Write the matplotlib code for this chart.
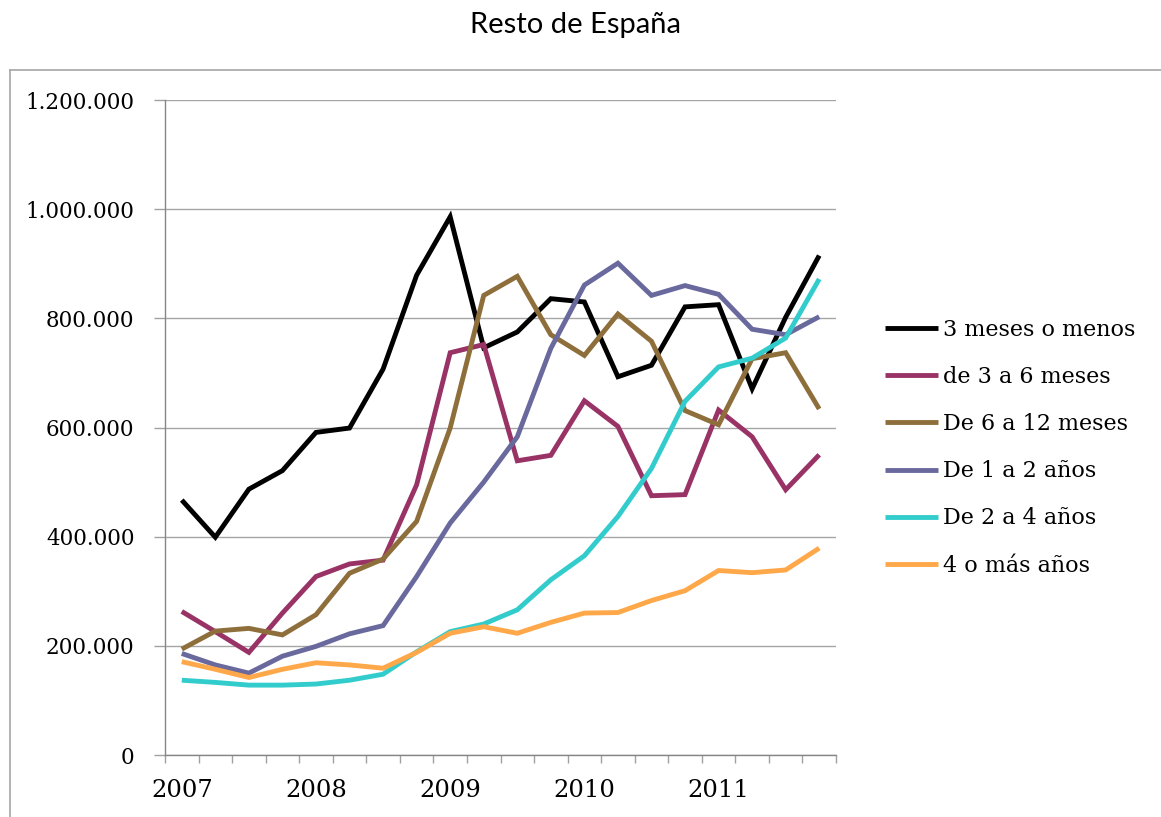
import matplotlib
matplotlib.use("Agg")
import matplotlib.pyplot as plt
from matplotlib.lines import Line2D
from matplotlib.ticker import FuncFormatter, FixedLocator

# ---- data (thousands of people, quarterly 2007Q1 - 2011Q4) ----
years = ["2007", "2008", "2009", "2010", "2011"]
labels = ["3 meses o menos", "de 3 a 6 meses", "De 6 a 12 meses",
          "De 1 a 2 años", "De 2 a 4 años", "4 o más años"]

s_3m = [467, 399, 487, 521, 591, 599, 707, 879, 986, 746,
        775, 836, 830, 693, 714, 821, 825, 671, 802, 915]
s_3_6m = [263, 226, 188, 260, 327, 350, 357, 495, 737, 752,
          539, 549, 649, 602, 475, 477, 632, 583, 486, 550]
s_6_12m = [194, 227, 232, 220, 257, 333, 359, 428, 599, 842,
           877, 770, 732, 808, 758, 631, 605, 726, 737, 634]
s_1_2a = [186, 165, 150, 181, 199, 222, 237, 327, 425, 500,
          583, 745, 861, 901, 842, 860, 844, 780, 770, 803]
s_2_4a = [137, 133, 128, 128, 130, 137, 148, 189, 226, 240,
          266, 321, 365, 437, 525, 648, 711, 727, 764, 872]
s_4a = [171, 157, 142, 157, 169, 165, 159, 188, 223, 235,
        223, 243, 260, 261, 283, 301, 338, 334, 339, 379]

series = [s_3m, s_3_6m, s_6_12m, s_1_2a, s_2_4a, s_4a]
colors = ["#000000", "#993366", "#8E6F3B", "#69699E", "#33CCCC", "#FFA84A"]

serif = ["DejaVu Serif"]

W, H = 1161, 817
fig = plt.figure(figsize=(W / 100, H / 100), dpi=100)
ax = fig.add_axes([165 / W, 1 - 755 / H, 671 / W, 655 / H])

n = len(s_3m)
x = list(range(n))
for vals, col, lab in zip(series, colors, labels):
    ax.plot(x, [v * 1000 for v in vals], color=col, lw=3.5, label=lab,
            solid_joinstyle="miter", solid_capstyle="butt")

ax.set_xlim(-0.5, n - 0.5)
ax.set_ylim(0, 1_200_000)

# y axis
ax.yaxis.set_major_locator(FixedLocator([i * 200_000 for i in range(7)]))
ax.yaxis.set_major_formatter(FuncFormatter(lambda v, p: f"{int(v):,}".replace(",", ".")))
ax.grid(axis="y", color="#A6A6A6", lw=1.0)
ax.set_axisbelow(True)

# x axis: category ticks between categories, year labels on Q1
ax.set_xticks([i - 0.5 for i in range(n + 1)])
ax.set_xticklabels([])
ax.set_xticks([i * 4 for i in range(len(years))], minor=True)
ax.set_xticklabels(years, minor=True)
ax.tick_params(axis="x", which="major", length=6, color="#A0A0A0", width=1)
ax.tick_params(axis="x", which="minor", length=0, pad=17)
ax.tick_params(axis="y", length=8, color="#A0A0A0", width=1, pad=14)

for lab in ax.get_xticklabels(minor=True):
    lab.set_fontfamily(serif)
    lab.set_fontsize(17.5)
for lab in ax.get_yticklabels():
    lab.set_fontfamily(serif)
    lab.set_fontsize(15.5)

for s in ["top", "right"]:
    ax.spines[s].set_visible(False)
for s in ["left", "bottom"]:
    ax.spines[s].set_color("#868686")
    ax.spines[s].set_linewidth(1.0)

# title
fig.text(575 / W, 1 - 25 / H, "Resto de España", ha="center", va="center",
         fontsize=21, family=["Lato", "DejaVu Sans"])

# chart-area border (partially cropped)
fig.add_artist(Line2D([10 / W, 1.0], [1 - 70 / H, 1 - 70 / H], transform=fig.transFigure,
                      color="#A6A6A6", lw=1.2))
fig.add_artist(Line2D([10 / W, 10 / W], [1 - 70 / H, 0], transform=fig.transFigure,
                      color="#A6A6A6", lw=1.2))

# legend
leg = fig.legend(loc="upper left", bbox_to_anchor=(885 / W, 1 - 319 / H),
                 frameon=False, prop={"family": serif, "size": 16},
                 handlelength=2.4, handletextpad=0.22, labelspacing=1.13,
                 borderpad=0, borderaxespad=0)

fig.savefig("out.png", dpi=100)
